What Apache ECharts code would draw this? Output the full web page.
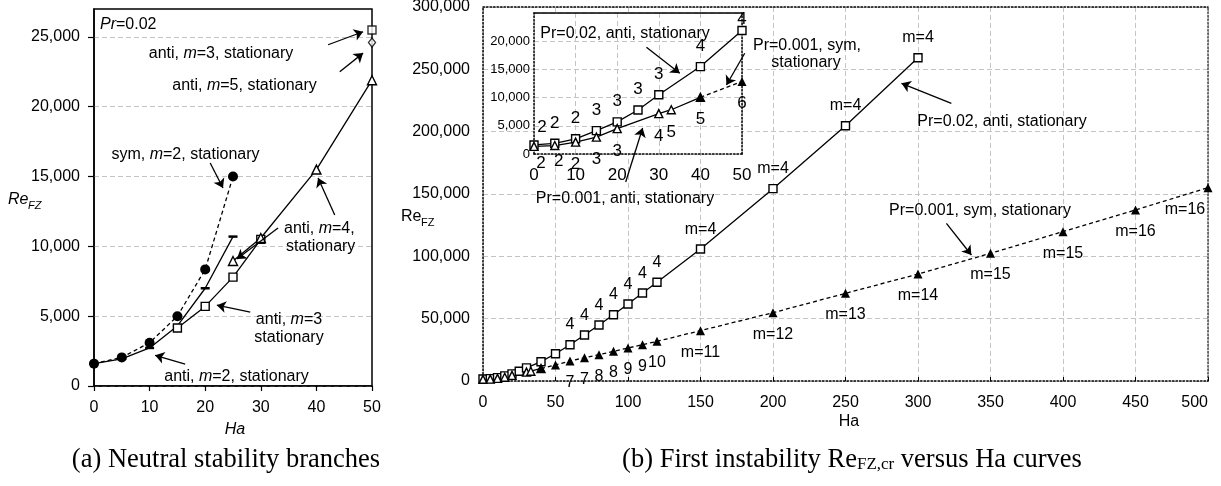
<!DOCTYPE html>
<html><head><meta charset="utf-8">
<script src="https://cdn.jsdelivr.net/npm/echarts@6/dist/echarts.min.js"></script>
<style>html,body{margin:0;padding:0;background:#fff}#c{width:1221px;height:486px}</style>
</head><body><div id="c"></div>
<script>
// ---------- Panel (a): neutral stability branches, Pr=0.02 ----------
const haA      = [0, 5, 10, 15, 20, 25];
const symM2    = [1600, 2050, 3100, 5000, 8350, 15000];
const antiM2   = [1600, 1950, 2725, 4300, 7000, 10700];
const haAntiM3 = [15, 20, 25, 30];
const antiM3   = [4150, 5700, 7800, 10500];
const haAntiM3b = [50];
const antiM3b  = [25500];
const haAntiM4 = [25, 30, 40, 50];
const antiM4   = [8950, 10600, 15500, 21900];
const haAntiM5 = [50];
const antiM5   = [24600];
const yTicksA  = [0, 5000, 10000, 15000, 20000, 25000];

// ---------- Panel (b): first instability Re_FZ,cr vs Ha ----------
const haPr002  = [0, 5, 10, 15, 20, 25, 30, 40, 50, 60, 70, 80, 90, 100, 110, 120, 150, 200, 250, 300];
const rePr002  = [1600, 1900, 2700, 4150, 5700, 7800, 10500, 15500, 21900, 29100, 36900, 44900, 53200, 61800, 70600, 79200, 105900, 154300, 204800, 259300];
const mPr002   = ['2', '2', '2', '3', '3', '3', '3', '4', '4', '4', '4', '4', '4', '4', '4', '4', 'm=4', 'm=4', 'm=4', 'm=4'];
const haPr001Anti = [0, 5, 10, 15, 20, 30, 33, 40];
const rePr001Anti = [1350, 1500, 2100, 3000, 4500, 7150, 7850, 10050];
const mPr001Anti  = ['2', '2', '2', '3', '3', '4', '5', ''];
const haPr001Sym  = [40, 50, 60, 70, 80, 90, 100, 110, 120, 150, 200, 250, 300, 350, 400, 450, 500];
const rePr001Sym  = [10050, 12850, 16000, 18700, 21100, 23800, 26500, 29100, 31800, 40400, 54800, 70300, 85800, 102400, 119800, 137200, 155100];
const mPr001Sym   = ['5', '6', '7', '7', '8', '8', '9', '9', '10', 'm=11', 'm=12', 'm=13', 'm=14', 'm=15', 'm=15', 'm=16', 'm=16'];

// annotation arrows, in data coordinates [[x0,y0],[x1,y1]]
const arrowsA = [
  [[42.1, 24440], [48.4, 25370]],
  [[44.2, 22500], [48.4, 23840]],
  [[20.9, 15975], [23.2, 14180]],
  [[43.3, 12245], [40.3, 14900]],
  [[33.1, 11310], [25.7, 9090]],
  [[28.1, 5290], [22.1, 5790]],
  [[16.4, 1560], [11.0, 2200]]
];
const arrowsB = [
  [[323.0, 222770], [288.6, 238810]],
  [[319.6, 126510], [336.8, 101080]],
  [[98.4, 159640], [110.1, 202960]],
  [[112.7, 267700], [135.7, 246840]],
  [[180.5, 262880], [167.9, 237450]]
];

const F = 'Liberation Sans, Arial, Helvetica, sans-serif';
const SERIF = 'Liberation Serif, Times New Roman, serif';
const fmt = v => String(v).replace(/\B(?=(\d{3})+(?!\d))/g, ',');
const GRID_C = '#c4c4c4';

function pts(xs, ys, labs, showFn) {
  return xs.map((x, i) => ({
    name: labs ? labs[i] : '',
    value: [x, ys[i]],
    label: { show: showFn ? showFn(x, i) : false }
  }));
}
function idx(xs, cond) { return xs.map((x, i) => cond(x) ? i : -1).filter(i => i >= 0); }
function sub(arr, ids) { return ids.map(i => arr[i]); }

const openSym = { color: '#fff', borderColor: '#000', borderWidth: 1.4 };
const lineSolid = { color: '#000', width: 1.3 };
const lineDash = { color: '#000', width: 1.3, type: [4, 3] };
const lab = (pos, dist, size) => ({ show: true, position: pos, distance: dist, formatter: '{b}', fontSize: size, fontFamily: F, color: '#000' });

// ---- series ----
const series = [];
// panel (a)
series.push({ type: 'line', xAxisIndex: 0, yAxisIndex: 0, clip: false, data: pts(haA, antiM2),
  symbol: 'rect', symbolSize: [9, 2.5], itemStyle: { color: '#000' }, lineStyle: lineSolid, z: 3 });
series.push({ type: 'line', xAxisIndex: 0, yAxisIndex: 0, clip: false, data: pts(haAntiM3, antiM3),
  symbol: 'rect', symbolSize: 8, itemStyle: openSym, lineStyle: lineSolid, z: 3 });
series.push({ type: 'scatter', xAxisIndex: 0, yAxisIndex: 0, clip: false, data: pts(haAntiM3b, antiM3b),
  symbol: 'rect', symbolSize: 8, itemStyle: openSym, z: 3 });
series.push({ type: 'line', xAxisIndex: 0, yAxisIndex: 0, clip: false, data: pts(haAntiM4, antiM4),
  symbol: 'triangle', symbolSize: 9, itemStyle: openSym, lineStyle: lineSolid, z: 3 });
series.push({ type: 'scatter', xAxisIndex: 0, yAxisIndex: 0, clip: false, data: pts(haAntiM5, antiM5),
  symbol: 'diamond', symbolSize: [7, 9], itemStyle: openSym, z: 3 });
series.push({ type: 'line', xAxisIndex: 0, yAxisIndex: 0, clip: false, data: pts(haA, symM2),
  symbol: 'circle', symbolSize: 10, itemStyle: { color: '#000' }, lineStyle: lineDash, z: 4 });

// panel (b) main
series.push({ type: 'line', xAxisIndex: 1, yAxisIndex: 1, clip: false,
  data: pts(haPr002, rePr002, mPr002, x => x > 50),
  symbol: 'rect', symbolSize: 8, itemStyle: openSym, lineStyle: lineSolid, label: lab('top', 7, 16), z: 3 });
series.push({ type: 'line', xAxisIndex: 1, yAxisIndex: 1, clip: false,
  data: pts(haPr001Anti, rePr001Anti),
  symbol: 'triangle', symbolSize: 8, itemStyle: openSym, lineStyle: lineSolid, z: 3 });
const symMain = pts(haPr001Sym, rePr001Sym, mPr001Sym, x => x > 50);
symMain[symMain.length - 1].label.offset = [-23, 0];
series.push({ type: 'line', xAxisIndex: 1, yAxisIndex: 1, clip: false, data: symMain,
  symbol: 'triangle', symbolSize: 9, itemStyle: { color: '#000' }, lineStyle: lineDash, label: lab('bottom', 9, 16), z: 4 });

// panel (b) inset
const iSq = idx(haPr002, x => x <= 50);
const sqIn = pts(sub(haPr002, iSq), sub(rePr002, iSq), sub(mPr002, iSq), () => true);
sqIn[0].label.offset = [8, 3];
sqIn[sqIn.length - 1].label.offset = [0, 9];
series.push({ type: 'line', xAxisIndex: 3, yAxisIndex: 3, clip: false, data: sqIn,
  symbol: 'rect', symbolSize: 8, itemStyle: openSym, lineStyle: lineSolid, label: lab('top', 7, 17), z: 12 });
const triIn = pts(haPr001Anti, rePr001Anti, mPr001Anti, (x, i) => mPr001Anti[i] !== '');
triIn[0].label.offset = [7, -5];
triIn[1].label.offset = [4, -6];
series.push({ type: 'line', xAxisIndex: 3, yAxisIndex: 3, clip: false, data: triIn,
  symbol: 'triangle', symbolSize: 8, itemStyle: openSym, lineStyle: lineSolid, label: lab('bottom', 9, 17), z: 12 });
const iSym = idx(haPr001Sym, x => x <= 50);
series.push({ type: 'line', xAxisIndex: 3, yAxisIndex: 3, clip: false,
  data: pts(sub(haPr001Sym, iSym), sub(rePr001Sym, iSym), sub(mPr001Sym, iSym), () => true),
  symbol: 'triangle', symbolSize: 9, itemStyle: { color: '#000' }, lineStyle: lineDash, label: lab('bottom', 9, 17), z: 13 });

// arrows
const arrowSeries = (xi, yi, arr) => ({
  type: 'lines', coordinateSystem: 'cartesian2d', xAxisIndex: xi, yAxisIndex: yi, z: 20,
  symbol: ['none', 'arrow'], symbolSize: 9, color: '#000',
  lineStyle: { color: '#000', width: 1.3, opacity: 1, curveness: 0 },
  data: arr.map(c => ({ coords: c }))
});
series.push(arrowSeries(0, 0, arrowsA));
series.push(arrowSeries(1, 1, arrowsB));

// ---- axes ----
const noLab = { show: false };
const dotted = (c) => ({ show: true, onZero: false, lineStyle: { color: c || '#000', width: 1.5, type: [1.5, 2] } });
const solid = { show: true, onZero: false, lineStyle: { color: '#000', width: 1.5 } };
const split = { show: true, lineStyle: { color: GRID_C, width: 1, type: [5, 3] } };

const xAxis = [
  { gridIndex: 0, type: 'value', min: 0, max: 50, interval: 10, axisLine: solid,
    axisTick: { show: true, length: 5, lineStyle: { color: '#000', width: 1.2 } },
    axisLabel: { fontSize: 16, fontFamily: F, color: '#000', margin: 14 }, splitLine: { show: false } },
  { gridIndex: 1, type: 'value', min: 0, max: 500, interval: 50, axisLine: dotted(),
    axisTick: { show: true, inside: true, length: 4, lineStyle: { color: '#000' } },
    axisLabel: { fontSize: 16, fontFamily: F, color: '#000', margin: 14, alignMaxLabel: 'right' }, splitLine: split },
  { gridIndex: 1, type: 'value', position: 'top', min: 0, max: 500, axisLine: dotted(),
    axisTick: noLab, axisLabel: noLab, splitLine: { show: false } },
  { gridIndex: 2, type: 'value', min: 0, max: 50, interval: 10, axisLine: dotted(), z: 11,
    axisTick: { show: false },
    axisLabel: { fontSize: 17, fontFamily: F, color: '#000', margin: 13 }, splitLine: split },
  { gridIndex: 2, type: 'value', position: 'top', min: 0, max: 50, axisLine: solid, z: 11,
    axisTick: noLab, axisLabel: noLab, splitLine: { show: false } }
];
const yAxis = [
  { gridIndex: 0, type: 'value', min: 0, max: 27000, interval: 5000, axisLine: solid,
    axisTick: { show: true, length: 6, customValues: yTicksA, lineStyle: { color: '#000', width: 1.2 } },
    axisLabel: { fontSize: 16, fontFamily: F, color: '#000', margin: 14, customValues: yTicksA,
      formatter: v => (v % 5000 ? '' : fmt(v)) },
    splitLine: split },
  { gridIndex: 1, type: 'value', min: 0, max: 300000, interval: 50000, axisLine: dotted(),
    axisTick: { show: false },
    axisLabel: { fontSize: 16, fontFamily: F, color: '#000', margin: 13, formatter: fmt }, splitLine: split },
  { gridIndex: 1, type: 'value', position: 'right', min: 0, max: 300000, axisLine: dotted('#444'),
    axisTick: noLab, axisLabel: noLab, splitLine: { show: false } },
  { gridIndex: 2, type: 'value', min: 0, max: 25000, interval: 5000, axisLine: dotted(), z: 11,
    axisTick: { show: false },
    axisLabel: { fontSize: 13, fontFamily: F, color: '#000', margin: 4, showMaxLabel: false, formatter: fmt }, splitLine: split },
  { gridIndex: 2, type: 'value', position: 'right', min: 0, max: 25000, axisLine: dotted(), z: 11,
    axisTick: noLab, axisLabel: noLab, splitLine: { show: false } }
];

// ---- text annotations ----
const it = { fontStyle: 'italic', fontSize: 16, fontFamily: F, fill: '#000', color: '#000' };
function txt(x, y, text, o) {
  o = o || {};
  return { type: 'text', x: x, y: y, z: 30, silent: true,
    style: Object.assign({ text: text, fontSize: 16, fontFamily: F, fill: '#000', align: 'center', verticalAlign: 'middle',
      rich: { i: Object.assign({}, it, { fontSize: o.fontSize || 16 }) } }, o) };
}
const graphic = [
  txt(100, 25, '{i|Pr}=0.02', { align: 'left' }),
  txt(221, 54, 'anti, {i|m}=3, stationary'),
  txt(244.5, 86, 'anti, {i|m}=5, stationary'),
  txt(185.5, 155, 'sym, {i|m}=2, stationary'),
  txt(284, 229, 'anti, {i|m}=4,', { align: 'left' }),
  txt(286, 246.5, 'stationary', { align: 'left' }),
  txt(289, 320, 'anti, {i|m}=3'),
  txt(289, 338, 'stationary'),
  txt(236.5, 376.5, 'anti, {i|m}=2, stationary'),
  txt(235, 430, 'Ha', { fontStyle: 'italic' }),
  txt(8, 200, 'Re', { align: 'left', fontStyle: 'italic' }),
  txt(28, 206, 'FZ', { align: 'left', fontStyle: 'italic', fontSize: 11 }),
  txt(226, 460, '(a) Neutral stability branches', { fontFamily: SERIF, fontSize: 26.5 }),

  txt(625, 33.3, 'Pr=0.02, anti, stationary'),
  txt(807, 46, 'Pr=0.001, sym,'),
  txt(806, 63, 'stationary'),
  txt(625, 198.3, 'Pr=0.001, anti, stationary'),
  txt(1002, 121.7, 'Pr=0.02, anti, stationary'),
  txt(980, 210.7, 'Pr=0.001, sym, stationary'),
  txt(849, 422, 'Ha'),
  txt(401, 216.5, 'Re', { align: 'left' }),
  txt(421, 222.5, 'FZ', { align: 'left', fontSize: 11 }),
  txt(852, 460, '(b) First instability Re{s|FZ,cr} versus Ha curves', { fontFamily: SERIF, fontSize: 26.5,
    rich: { s: { fontFamily: SERIF, fontSize: 17, verticalAlign: 'bottom', lineHeight: 17, fill: '#000', color: '#000' } } })
];

const option = {
  animation: false,
  backgroundColor: '#fff',
  grid: [
    { left: 94, top: 9, width: 278, height: 377, show: true, borderColor: '#000', borderWidth: 1.5, backgroundColor: 'transparent', containLabel: false, outerBoundsMode: 'none' },
    { left: 483, top: 7, width: 725, height: 374, show: false, containLabel: false, outerBoundsMode: 'none' },
    { left: 534, top: 13, width: 208, height: 141, show: true, backgroundColor: '#fff', borderWidth: 0, z: 10, containLabel: false, outerBoundsMode: 'none' }
  ],
  xAxis: xAxis,
  yAxis: yAxis,
  series: series,
  graphic: graphic
};
const chart = echarts.init(document.getElementById('c'), null, { renderer: 'canvas' });
chart.setOption(option);
</script>
</body></html>
